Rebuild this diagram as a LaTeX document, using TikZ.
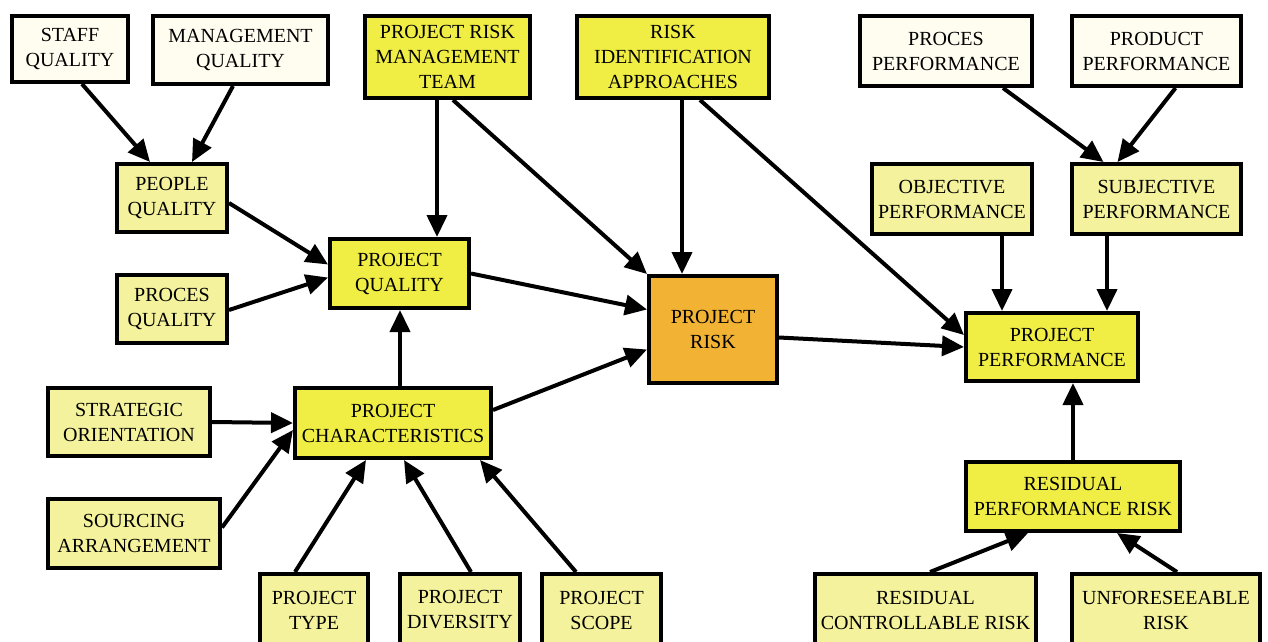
\documentclass[tikz,border=0pt]{standalone}
\usepackage{fontspec}
\setmainfont{Liberation Serif}
\newfontfamily\labelserif{Liberation Serif}
\usetikzlibrary{arrows.meta,calc}

\definecolor{cream}{HTML}{FFFDF0}
\definecolor{lightyel}{HTML}{F4F29C}
\definecolor{brightyel}{HTML}{F0EE45}
\definecolor{riskorange}{HTML}{F2B233}

\newcommand{\boxfont}{\labelserif\fontsize{20}{25}\selectfont}

\tikzset{
  box/.style={draw=black, line width=4pt, inner sep=0pt, align=center, font=\boxfont},
  wbox/.style={box, fill=cream},
  lbox/.style={box, fill=lightyel},
  ybox/.style={box, fill=brightyel},
  obox/.style={box, fill=riskorange},
  arr/.style={line width=4pt, -{Triangle[length=22pt,width=20pt]}},
  sz/.style 2 args={minimum width=#1pt, minimum height=#2pt},
}

\begin{document}
\begin{tikzpicture}[x=1pt, y=-1pt]
  \fill[white] (0,0) rectangle (1268,642);
  \clip (0,0) rectangle (1268,642);

  % top row
  \node[wbox, sz={116}{66}] (staff) at (70,49) {STAFF\\QUALITY};
  \node[wbox, sz={175}{68}] (mgmt) at (240.5,50) {MANAGEMENT\\QUALITY};
  \node[ybox, sz={165}{82}] (prmt) at (447.5,57) {PROJECT RISK\\MANAGEMENT\\TEAM};
  \node[ybox, sz={192}{82}] (ria) at (673,57) {RISK\\IDENTIFICATION\\APPROACHES};
  \node[wbox, sz={172}{70}] (procperf) at (946,51) {PROCES\\PERFORMANCE};
  \node[wbox, sz={169}{70}] (prodperf) at (1156.5,51) {PRODUCT\\PERFORMANCE};

  % quality side
  \node[lbox, sz={110}{68}] (people) at (172,198) {PEOPLE\\QUALITY};
  \node[lbox, sz={110}{68}] (procq) at (172,309) {PROCES\\QUALITY};
  \node[ybox, sz={139}{69}] (pq) at (399.5,273.5) {PROJECT\\QUALITY};

  % centre
  \node[obox, sz={128}{107}] (risk) at (713,329.5) {PROJECT\\RISK};

  % performance side
  \node[lbox, sz={160}{70}] (obj) at (952,199) {OBJECTIVE\\PERFORMANCE};
  \node[lbox, sz={169}{70}] (subj) at (1156.5,199) {SUBJECTIVE\\PERFORMANCE};
  \node[ybox, sz={172}{68}] (pp) at (1052,347) {PROJECT\\PERFORMANCE};
  \node[ybox, sz={214}{69}] (rpr) at (1073,496.5) {RESIDUAL\\PERFORMANCE RISK};
  \node[lbox, sz={221}{72}] (rcr) at (925.5,610) {RESIDUAL\\CONTROLLABLE RISK};
  \node[lbox, sz={188}{72}] (unf) at (1166,610) {UNFORESEEABLE\\RISK};

  % characteristics
  \node[lbox, sz={162}{68}] (strat) at (129,422) {STRATEGIC\\ORIENTATION};
  \node[ybox, sz={196}{70}] (pc) at (393,423) {PROJECT\\CHARACTERISTICS};
  \node[lbox, sz={172}{69}] (src) at (134,533.5) {SOURCING\\ARRANGEMENT};
  \node[lbox, sz={108}{72}] (ptype) at (314,610) {PROJECT\\TYPE};
  \node[lbox, sz={120}{72}] (pdiv) at (460,610) {PROJECT\\DIVERSITY};
  \node[lbox, sz={119}{72}] (pscope) at (601.5,610) {PROJECT\\SCOPE};

  % connectors into people quality
  \draw[arr] ($(staff.south)+(12,0)$) -- ($(people.north)+(-22,0)$);
  \draw[arr] ($(mgmt.south)+(-7.5,0)$) -- ($(people.north)+(20,0)$);

  % into project quality
  \draw[arr] ($(people.east)+(0,5)$) -- ($(pq.west)+(0,-9)$);
  \draw[arr] ($(procq.east)+(0,1)$) -- ($(pq.west)+(0,4)$);
  \draw[arr] ($(prmt.south)+(-10.5,0)$) -- ($(pq.north)+(37.5,0)$);
  \draw[arr] ($(pc.north)+(7,0)$) -- ($(pq.south)+(0.5,0)$);

  % into project risk
  \draw[arr] ($(prmt.south)+(5.5,0)$) -- (risk.north west);
  \draw[arr] ($(ria.south)+(9,0)$) -- ($(risk.north)+(-31,0)$);
  \draw[arr] (pq.east) -- ($(risk.west)+(0,-20)$);
  \draw[arr] ($(pc.east)+(0,-13)$) -- ($(risk.west)+(0,20)$);

  % into project performance
  \draw[arr] ($(ria.south)+(27,0)$) -- ($(pp.west)+(0,-12)$);
  \draw[arr] ($(risk.east)+(0,8)$) -- (pp.west);
  \draw[arr] ($(obj.south)+(50,0)$) -- ($(pp.north)+(-50,0)$);
  \draw[arr] ($(subj.south)+(-49.5,0)$) -- ($(pp.north)+(55,0)$);
  \draw[arr] (rpr.north) -- ($(pp.south)+(21,0)$);

  % into subjective performance
  \draw[arr] ($(procperf.south)+(57,0)$) -- ($(subj.north)+(-53,0)$);
  \draw[arr] ($(prodperf.south)+(19,0)$) -- ($(subj.north)+(-39,0)$);

  % into residual performance risk
  \draw[arr] ($(rcr.north)+(4.5,0)$) -- ($(rpr.south)+(-45,0)$);
  \draw[arr] ($(unf.north)+(11,0)$) -- ($(rpr.south)+(44,0)$);

  % into project characteristics
  \draw[arr] (strat.east) -- (pc.west);
  \draw[arr] ($(src.east)+(0,-6)$) -- ($(pc.west)+(0,7)$);
  \draw[arr] ($(ptype.north)+(-19,0)$) -- ($(pc.south)+(-27,0)$);
  \draw[arr] ($(pdiv.north)+(11,0)$) -- ($(pc.south)+(11,0)$);
  \draw[arr] ($(pscope.north)+(-25.5,0)$) -- ($(pc.south)+(87,0)$);
\end{tikzpicture}
\end{document}
